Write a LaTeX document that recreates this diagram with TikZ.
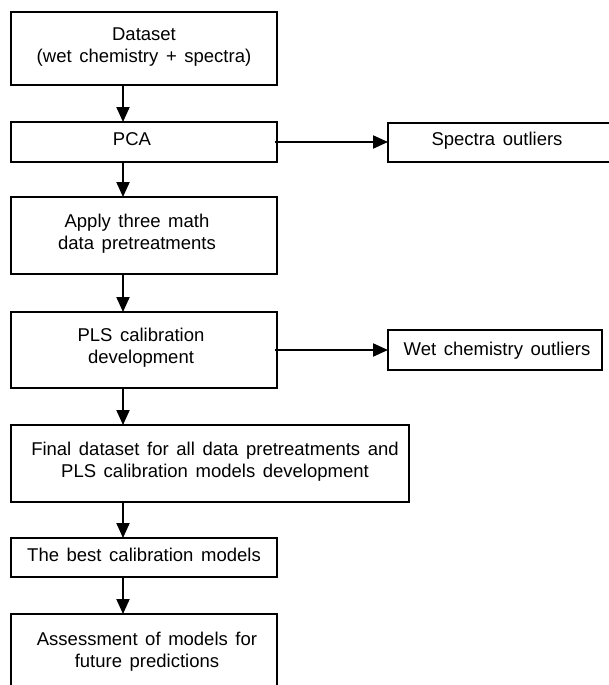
\documentclass[tikz,border=0pt]{standalone}
\usepackage{fontspec}
\setmainfont{Liberation Sans}
\usetikzlibrary{arrows.meta}
\newcommand\lblfont{\fontsize{18.5}{22}\selectfont\spaceskip 7.6pt\relax}
\begin{document}
\begin{tikzpicture}[x=1pt,y=-1pt,
  boxline/.style={draw=black,line width=2pt},
  lbl/.style={font=\lblfont,align=center,inner sep=0pt,anchor=base},
  flow/.style={line width=2pt,-{Triangle[length=15pt,width=13pt]}}]
\useasboundingbox (0,0) rectangle (608,685);
% boxes
\draw[boxline] (11,12) rectangle (277,85);
\draw[boxline] (11,122) rectangle (277,162);
\draw[boxline] (11,197) rectangle (277,274);
\draw[boxline] (11,312) rectangle (277,388);
\draw[boxline] (11,425) rectangle (409,502);
\draw[boxline] (11,538) rectangle (277,577);
\draw[boxline] (11,614) rectangle (277,700);
\draw[boxline] (388,123) rectangle (615,162);
\draw[boxline] (388,330) rectangle (602,370);
% anchor coordinates
\coordinate (b1s) at (123,85);
\coordinate (b2n) at (123,122);
\coordinate (b2s) at (123,162);
\coordinate (b3n) at (123,197);
\coordinate (b3s) at (123,274);
\coordinate (b4n) at (123,312);
\coordinate (b4s) at (123,388);
\coordinate (b5n) at (123,425);
\coordinate (b5s) at (123,502);
\coordinate (b6n) at (123,538);
\coordinate (b6s) at (123,577);
\coordinate (b7n) at (123,614);
\coordinate (b2e) at (275,142);
\coordinate (s1w) at (388,142);
\coordinate (b4e) at (275,350);
\coordinate (s2w) at (388,350);
% texts (positioned at the baseline of the last line)
\node[lbl] (t1) at (144,63) {Dataset\\(wet chemistry + spectra)};
\node[lbl] (t2) at (132,145.5) {PCA};
\node[lbl] (t3) at (137,249.5) {Apply three math\\data pretreatments};
\node[lbl] (t4) at (141,363.5) {PLS calibration\\development};
\node[lbl] (t5) at (215,477.5) {Final dataset for all data pretreatments and\\PLS calibration models development};
\node[lbl] (t6) at (144,561.5) {The best calibration models};
\node[lbl] (t7) at (147,667) {Assessment of models for\\future predictions};
\node[lbl] (s1) at (497,145) {Spectra outliers};
\node[lbl] (s2) at (497,355) {Wet chemistry outliers};
% connectors
\draw[flow] (b1s) -- (b2n);
\draw[flow] (b2s) -- (b3n);
\draw[flow] (b3s) -- (b4n);
\draw[flow] (b4s) -- (b5n);
\draw[flow] (b5s) -- (b6n);
\draw[flow] (b6s) -- (b7n);
\draw[flow] (b2e) -- (s1w);
\draw[flow] (b4e) -- (s2w);
\end{tikzpicture}
\end{document}
